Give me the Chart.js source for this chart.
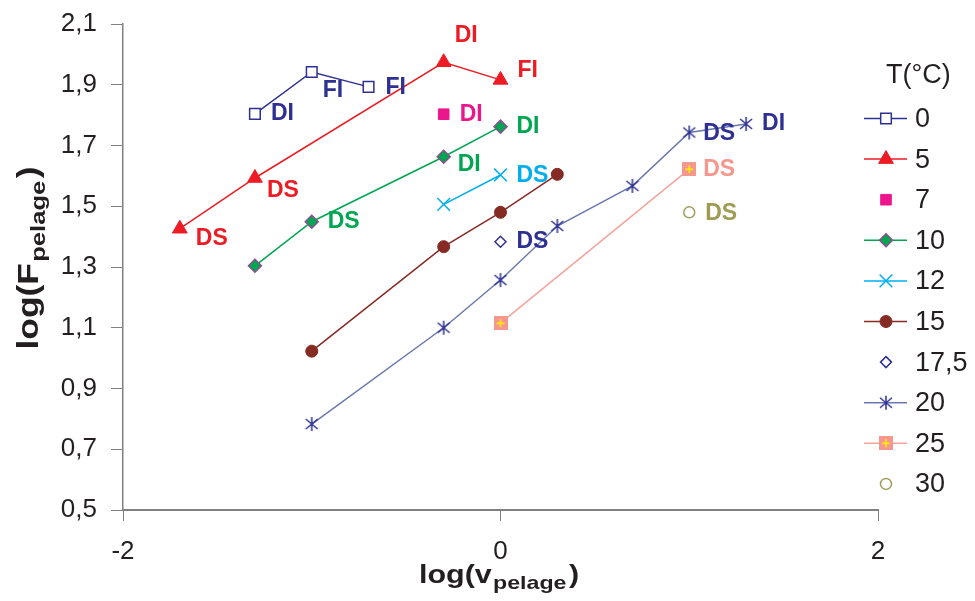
<!DOCTYPE html>
<html><head><meta charset="utf-8">
<script src="https://cdn.jsdelivr.net/npm/chart.js@4/dist/chart.umd.min.js"></script>
<style>html,body{margin:0;padding:0;background:#fff}canvas{display:block}</style>
</head><body>
<canvas id="c" width="975" height="601" style="width:975px;height:601px"></canvas>
<script>
// ---- data (log values) ----
const seriesNames = ['0','5','7','10','12','15','17,5','20','25','30'];

const x_T0  = [-1.301, -1.0, -0.699];
const y_T0  = [1.804, 1.942, 1.893];
const l_T0  = ['DI', 'FI', 'FI'];

const x_T5  = [-1.699, -1.301, -0.301, 0.0];
const y_T5  = [1.426, 1.593, 1.974, 1.916];
const l_T5  = ['DS', 'DS', 'DI', 'FI'];

const x_T7  = [-0.301];
const y_T7  = [1.803];
const l_T7  = ['DI'];

const x_T10 = [-1.301, -1.0, -0.301, 0.0];
const y_T10 = [1.304, 1.449, 1.663, 1.762];
const l_T10 = ['', 'DS', 'DI', 'DI'];

const x_T12 = [-0.301, 0.0];
const y_T12 = [1.506, 1.603];
const l_T12 = ['', 'DS'];

const x_T15 = [-1.0, -0.301, 0.0, 0.301];
const y_T15 = [1.023, 1.367, 1.480, 1.605];
const l_T15 = ['', '', '', ''];

const x_T175 = [0.0];
const y_T175 = [1.383];
const l_T175 = ['DS'];

const x_T20 = [-1.0, -0.301, 0.0, 0.301, 0.699, 1.0, 1.301];
const y_T20 = [0.783, 1.100, 1.257, 1.435, 1.567, 1.743, 1.771];
const l_T20 = ['', '', '', '', '', 'DS', 'DI'];

const x_T25 = [0.0, 1.0];
const y_T25 = [1.115, 1.622];
const l_T25 = ['', 'DS'];

const x_T30 = [1.0];
const y_T30 = [1.480];
const l_T30 = ['DS'];

const xTickValues = [-2, 0, 2];
const xTickLabels = ['-2', '0', '2'];
const yTickValues = [0.5, 0.7, 0.9, 1.1, 1.3, 1.5, 1.7, 1.9, 2.1];
const yTickLabels = ['0,5', '0,7', '0,9', '1,1', '1,3', '1,5', '1,7', '1,9', '2,1'];

// ---- label placement (pixel offsets from the point) ----
const off_T0  = [[16,0],[11,19],[17,1]];
const off_T5  = [[16,10],[12,13],[11,-27],[17,-9]];
const off_T7  = [[16,0]];
const off_T10 = [null,[16,0],[14,8],[16,0]];
const off_T12 = [null,[16,1]];
const off_T175 = [[16,0]];
const off_T20 = [null,null,null,null,null,[14,1],[16,0]];
const off_T25 = [null,[14,0]];
const off_T30 = [[16,1]];

// ---- custom marker images ----
function asteriskImg(color){
  const c = document.createElement('canvas'); c.width = 16; c.height = 16;
  const g = c.getContext('2d'); g.strokeStyle = color; g.lineWidth = 1.5;
  g.beginPath();
  g.moveTo(8,1); g.lineTo(8,15);
  g.moveTo(2,3); g.lineTo(14,13);
  g.moveTo(14,3); g.lineTo(2,13);
  g.stroke(); return c;
}
function plusSquareImg(fill, plus){
  const c = document.createElement('canvas'); c.width = 14; c.height = 14;
  const g = c.getContext('2d'); g.fillStyle = fill; g.fillRect(0,0,14,14);
  g.strokeStyle = plus; g.lineWidth = 1.5; g.beginPath();
  g.moveTo(7,3); g.lineTo(7,11); g.moveTo(3,7); g.lineTo(11,7); g.stroke(); return c;
}

const pts = (xs, ys) => xs.map((v, k) => ({x: v, y: ys[k]}));

function mk(name, xs, ys, labels, offs, o){
  return Object.assign({
    label: name, data: pts(xs, ys), showLine: true, borderWidth: 1.5, tension: 0,
    pointBorderWidth: 1.5, pointLabels: labels, labelOffsets: offs || []
  }, o);
}

const NAVY = '#2E3192';
const datasets = [
  mk(seriesNames[0], x_T0, y_T0, l_T0, off_T0, {borderColor: NAVY, pointStyle: 'rect', pointRadius: 7.5,
     pointBackgroundColor: '#fff', pointBorderColor: NAVY, labelColor: NAVY}),
  mk(seriesNames[1], x_T5, y_T5, l_T5, off_T5, {borderColor: '#ED1C24', pointStyle: 'triangle', pointRadius: 8.5,
     pointBackgroundColor: '#ED1C24', pointBorderColor: '#ED1C24', pointBorderWidth: 1, labelColor: '#ED1C24'}),
  mk(seriesNames[2], x_T7, y_T7, l_T7, off_T7, {showLine: false, borderColor: '#EC168C', pointStyle: 'rect', pointRadius: 7.5,
     pointBackgroundColor: '#EC168C', pointBorderColor: '#EC168C', pointBorderWidth: 1, labelColor: '#EC168C'}),
  mk(seriesNames[3], x_T10, y_T10, l_T10, off_T10, {borderColor: '#00A651', pointStyle: 'rectRot', pointRadius: 6.5,
     pointBackgroundColor: '#00A651', pointBorderColor: '#8E4E8E', labelColor: '#00A651'}),
  mk(seriesNames[4], x_T12, y_T12, l_T12, off_T12, {borderColor: '#00AEEF', pointStyle: 'crossRot', pointRadius: 9,
     pointBackgroundColor: '#00AEEF', pointBorderColor: '#00AEEF', labelColor: '#00AEEF'}),
  mk(seriesNames[5], x_T15, y_T15, l_T15, null, {borderColor: '#862A24', pointStyle: 'circle', pointRadius: 6,
     pointBackgroundColor: '#862A24', pointBorderColor: '#862A24', pointBorderWidth: 1, labelColor: '#862A24'}),
  mk(seriesNames[6], x_T175, y_T175, l_T175, off_T175, {showLine: false, borderColor: NAVY, pointStyle: 'rectRot', pointRadius: 5.5,
     pointBackgroundColor: '#fff', pointBorderColor: NAVY, labelColor: NAVY}),
  mk(seriesNames[7], x_T20, y_T20, l_T20, off_T20, {borderColor: '#6A78AE', pointStyle: asteriskImg(NAVY), pointRadius: 8,
     pointBackgroundColor: NAVY, pointBorderColor: NAVY, labelColor: NAVY}),
  mk(seriesNames[8], x_T25, y_T25, l_T25, off_T25, {borderColor: '#F4A39C', pointStyle: plusSquareImg('#F4978E', '#FFF200'), pointRadius: 7,
     pointBackgroundColor: '#F4978E', pointBorderColor: '#F4978E', labelColor: '#F4978E'}),
  mk(seriesNames[9], x_T30, y_T30, l_T30, off_T30, {showLine: false, borderColor: '#A19E5B', pointStyle: 'circle', pointRadius: 5.5,
     pointBackgroundColor: '#fff', pointBorderColor: '#A19E5B', labelColor: '#9E9B53'})
];

const FONT = '"Liberation Sans", Arial, sans-serif';

const pointLabelPlugin = {
  id: 'pointLabels',
  afterDatasetsDraw(chart){
    const ctx = chart.ctx;
    chart.data.datasets.forEach((ds, i) => {
      const meta = chart.getDatasetMeta(i);
      meta.data.forEach((el, j) => {
        const t = ds.pointLabels && ds.pointLabels[j];
        if (!t) return;
        const off = (ds.labelOffsets && ds.labelOffsets[j]) || [16, 0];
        ctx.save();
        ctx.font = 'bold 23px ' + FONT;
        ctx.fillStyle = ds.labelColor;
        ctx.textAlign = 'left'; ctx.textBaseline = 'middle';
        ctx.fillText(t, el.x + off[0], el.y + off[1]);
        ctx.restore();
      });
    });
  }
};

function drawSubTitle(ctx, main, sub, tail, mainSize, subSize, subDrop, stretch){
  const mf = 'bold ' + mainSize + 'px ' + FONT, sf = 'bold ' + subSize + 'px ' + FONT;
  ctx.font = mf; const w1 = ctx.measureText(main).width, w3 = ctx.measureText(tail).width;
  ctx.font = sf; const w2 = ctx.measureText(sub).width;
  const total = (w1 + w2 + w3 + 3);
  ctx.scale(stretch, 1);
  let x = -total / 2;
  ctx.textAlign = 'left'; ctx.textBaseline = 'alphabetic'; ctx.fillStyle = '#231F20';
  ctx.font = mf; ctx.fillText(main, x, 0); x += w1;
  ctx.font = sf; ctx.fillText(sub, x + 1, subDrop); x += w2 + 3;
  ctx.font = mf; ctx.fillText(tail, x, 0);
}

const decorPlugin = {
  id: 'decor',
  afterDraw(chart){
    const ctx = chart.ctx;
    // axis titles
    ctx.save(); ctx.translate(499, 583); drawSubTitle(ctx, 'log(v', 'pelage', ')', 25, 19, 6, 1.22); ctx.restore();
    ctx.save(); ctx.translate(38, 258); ctx.rotate(-Math.PI / 2); drawSubTitle(ctx, 'log(F', 'pelage', ')', 29, 21, 7, 1.22); ctx.restore();
    // legend
    ctx.save();
    ctx.font = '27px ' + FONT; ctx.fillStyle = '#231F20'; ctx.textBaseline = 'middle'; ctx.textAlign = 'left';
    ctx.fillText('T(°C)', 886, 76);
    chart.data.datasets.forEach((ds, i) => {
      const y = 118.5 + i * 40.6;
      if (ds.showLine) {
        ctx.strokeStyle = ds.borderColor; ctx.lineWidth = 1.5;
        ctx.beginPath(); ctx.moveTo(864, y); ctx.lineTo(907, y); ctx.stroke();
      }
      ctx.save();
      ctx.fillStyle = ds.pointBackgroundColor; ctx.strokeStyle = ds.pointBorderColor;
      ctx.lineWidth = ds.pointBorderWidth;
      Chart.helpers.drawPoint(ctx, {pointStyle: ds.pointStyle, radius: ds.pointRadius,
        borderWidth: ds.pointBorderWidth, rotation: 0}, 886, y);
      ctx.restore();
      ctx.fillStyle = '#231F20'; ctx.font = '27px ' + FONT;
      ctx.fillText(ds.label, 915, y + 1);
    });
    ctx.restore();
  }
};

new Chart(document.getElementById('c'), {
  type: 'scatter',
  data: { datasets },
  options: {
    responsive: false, animation: false, devicePixelRatio: 1,
    layout: { padding: { top: 24, right: 97, left: 0, bottom: 0 } },
    plugins: { legend: { display: false }, tooltip: { enabled: false } },
    events: [],
    scales: {
      x: {
        type: 'linear', min: -2, max: 2,
        afterBuildTicks: s => { s.ticks = xTickValues.map(v => ({value: v})); },
        afterFit: s => { s.height = 91; s.paddingLeft = 0; s.paddingRight = 0; },
        ticks: { callback: (v, i) => xTickLabels[i], font: { size: 26, family: FONT }, color: '#231F20', padding: 15, maxRotation: 0 },
        grid: { drawOnChartArea: false, drawTicks: true, tickLength: 11, color: '#808080', lineWidth: 1 },
        border: { display: true, color: '#808080', width: 2 }
      },
      y: {
        type: 'linear', min: 0.5, max: 2.1,
        afterBuildTicks: s => { s.ticks = yTickValues.map(v => ({value: v})); },
        afterFit: s => { s.width = 123; s.paddingTop = 0; s.paddingBottom = 0; },
        ticks: { callback: (v, i) => yTickLabels[i], font: { size: 26, family: FONT }, color: '#231F20', padding: 14 },
        grid: { drawOnChartArea: false, drawTicks: true, tickLength: 12, color: '#808080', lineWidth: 1 },
        border: { display: true, color: '#808080', width: 1.5 }
      }
    }
  },
  plugins: [pointLabelPlugin, decorPlugin]
});
</script>
</body></html>
